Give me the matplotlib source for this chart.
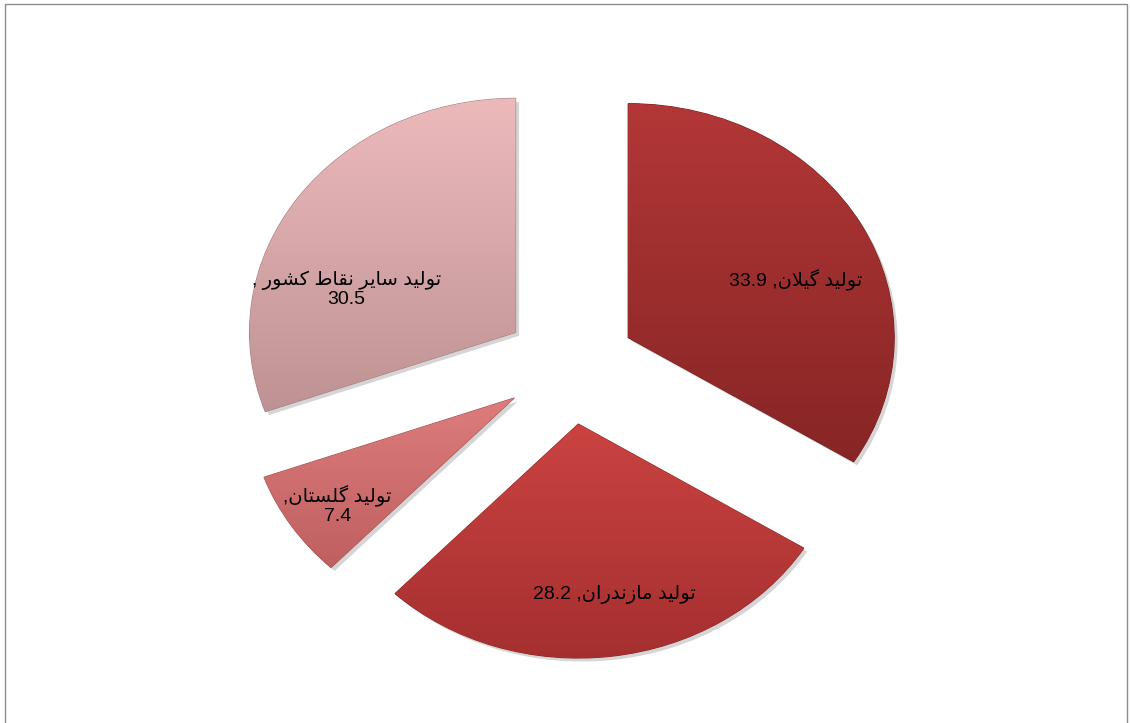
import re
import numpy as np
import matplotlib
matplotlib.use("Agg")
import matplotlib.pyplot as plt
import matplotlib.patheffects as pe
from matplotlib.colors import to_rgb
from matplotlib.patches import Rectangle

# data
categories = ["تولید گیلان", "تولید مازندران", "تولید گلستان", "تولید سایر نقاط کشور "]
values = [33.9, 28.2, 7.4, 30.5]
label_breaks = ["", "", "\n", "\n"]

# presentation forms: isolated, final, initial, medial
FORMS = {
    "\u0627": ("\uFE8D", "\uFE8E", None, None),
    "\u062A": ("\uFE95", "\uFE96", "\uFE97", "\uFE98"),
    "\u062F": ("\uFEA9", "\uFEAA", None, None),
    "\u0631": ("\uFEAD", "\uFEAE", None, None),
    "\u0632": ("\uFEAF", "\uFEB0", None, None),
    "\u0633": ("\uFEB1", "\uFEB2", "\uFEB3", "\uFEB4"),
    "\u0634": ("\uFEB5", "\uFEB6", "\uFEB7", "\uFEB8"),
    "\u0637": ("\uFEC1", "\uFEC2", "\uFEC3", "\uFEC4"),
    "\u0642": ("\uFED5", "\uFED6", "\uFED7", "\uFED8"),
    "\u0644": ("\uFEDD", "\uFEDE", "\uFEDF", "\uFEE0"),
    "\u0645": ("\uFEE1", "\uFEE2", "\uFEE3", "\uFEE4"),
    "\u0646": ("\uFEE5", "\uFEE6", "\uFEE7", "\uFEE8"),
    "\u0648": ("\uFEED", "\uFEEE", None, None),
    "\u06CC": ("\uFBFC", "\uFBFD", "\uFBFE", "\uFBFF"),
    "\u06A9": ("\uFB8E", "\uFB8F", "\uFB90", "\uFB91"),
    "\u06AF": ("\uFB92", "\uFB93", "\uFB94", "\uFB95"),
}


def dual(c):
    return c in FORMS and FORMS[c][2] is not None


def shape(text):
    out = []
    i = 0
    n = len(text)
    while i < n:
        c = text[i]
        if c not in FORMS:
            out.append(c)
            i += 1
            continue
        link_prev = i > 0 and dual(text[i - 1])
        # lam-alef ligature
        if c == "\u0644" and i + 1 < n and text[i + 1] == "\u0627":
            out.append("\uFEFC" if link_prev else "\uFEFB")
            i += 2
            continue
        link_next = dual(c) and i + 1 < n and text[i + 1] in FORMS
        iso, fin, ini, med = FORMS[c]
        if link_prev and link_next:
            out.append(med)
        elif link_prev:
            out.append(fin)
        elif link_next:
            out.append(ini)
        else:
            out.append(iso)
        i += 1
    return "".join(out)


def visual(line):
    s = shape(line)[::-1]
    return re.sub(r"[0-9.]+", lambda m: m.group(0)[::-1], s)


def label_text(cat, val, brk):
    lines = (cat + "," + (" " if brk == "" else "") + brk + str(val)).split("\n")
    return "\n".join(visual(l) for l in lines)


grad = [("#B33737", "#872525"), ("#CA4341", "#A52F2F"),
        ("#DC7C7C", "#BF5F5F"), ("#EDBABC", "#BE9294")]
label_dist = [0.675, 0.743, 0.808, 0.661]
label_shift = [-7.8, 3.3, 1.5, 19.0]

fig = plt.figure(figsize=(11.3, 7.23), dpi=100)
ax = fig.add_axes([0, 0, 1, 1])

wedges, _ = ax.pie(values, explode=[0.25] * 4, startangle=90, counterclock=False,
                   radius=1, colors=[g[0] for g in grad],
                   wedgeprops=dict(linewidth=0.8))

for w, (top, bot) in zip(wedges, grad):
    w.set_edgecolor(tuple(0.85 * np.array(to_rgb(bot))))
    w.set_path_effects([pe.SimplePatchShadow(offset=(2.5, -2.5), shadow_rgbFace="#888888", alpha=0.35),
                        pe.Normal()])
    ext = w.get_path().get_extents()
    t = np.linspace(0, 1, 256)[:, None, None]
    img = (1 - t) * np.array(to_rgb(top)) + t * np.array(to_rgb(bot))
    im = ax.imshow(img, extent=[ext.x0, ext.x1, ext.y0, ext.y1], aspect="auto",
                   origin="upper", zorder=1.5, interpolation="bilinear")
    im.set_clip_path(w)

for w, cat, val, brk, d, sh in zip(wedges, categories, values, label_breaks, label_dist, label_shift):
    ang = np.deg2rad((w.theta1 + w.theta2) / 2 + sh)
    cx, cy = w.center
    ax.text(cx + d * np.cos(ang), cy + d * np.sin(ang), label_text(cat, val, brk),
            ha="center", va="center", multialignment="center", fontsize=14,
            family=["Liberation Sans", "DejaVu Sans"], color="black", zorder=3,
            linespacing=1.05)

ax.set_aspect("auto")
ax.set_xlim(-570 / 266, (1130 - 570) / 266)
ax.set_ylim(-(723 - 366) / 234, 366 / 234)
ax.axis("off")

fig.patches.append(Rectangle((5 / 1130, -0.01), (1127 - 5) / 1130, 1.01 - 4 / 723,
                             transform=fig.transFigure, fill=False,
                             edgecolor="#8c8c8c", linewidth=1))

fig.savefig("out.png", dpi=100, facecolor="white")
